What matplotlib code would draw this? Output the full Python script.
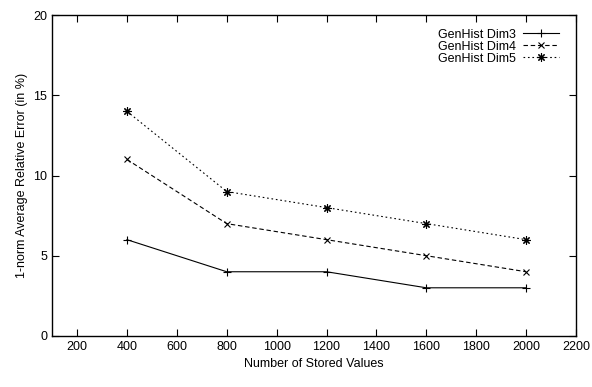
import matplotlib
matplotlib.use("Agg")
import matplotlib.pyplot as plt

plt.rcParams['font.family'] = ['Liberation Sans', 'DejaVu Sans']
plt.rcParams['font.size'] = 9

stored = [400, 800, 1200, 1600, 2000]
dim3 = [6, 4, 4, 3, 3]
dim4 = [11, 7, 6, 5, 4]
dim5 = [14, 9, 8, 7, 6]

fig = plt.figure(figsize=(5.92, 3.87), dpi=100)
ax = fig.add_axes([0.088, 0.132, 0.885, 0.829])

ax.plot(stored, dim3, color="black", lw=0.8, ls="-", marker="+", ms=6, mew=0.8, label="GenHist Dim3")
ax.plot(stored, dim4, color="black", lw=0.8, ls=(0, (4, 2.5)), marker="x", ms=5, mew=0.8, label="GenHist Dim4")
ax.plot(stored, dim5, color="black", lw=0.8, ls=(0, (1.5, 2.5)), marker=(8, 2, 0), ms=6, mew=0.8, label="GenHist Dim5")

ax.set_xlim(100, 2200)
ax.set_ylim(0, 20)
ax.set_xticks(range(200, 2201, 200))
ax.set_yticks(range(0, 21, 5))
ax.tick_params(direction="in", top=True, right=True, length=5, width=0.8)
for s in ax.spines.values():
    s.set_linewidth(1.0)

ax.set_xlabel("Number of Stored Values")
ax.set_ylabel("1-norm Average Relative Error (in %)")

ax.legend(loc="upper right", bbox_to_anchor=(0.985, 0.985), frameon=False, markerfirst=False,
          handlelength=2.9, handletextpad=0.6, labelspacing=0.0, borderaxespad=0.3)

fig.savefig("out.png", dpi=100)
